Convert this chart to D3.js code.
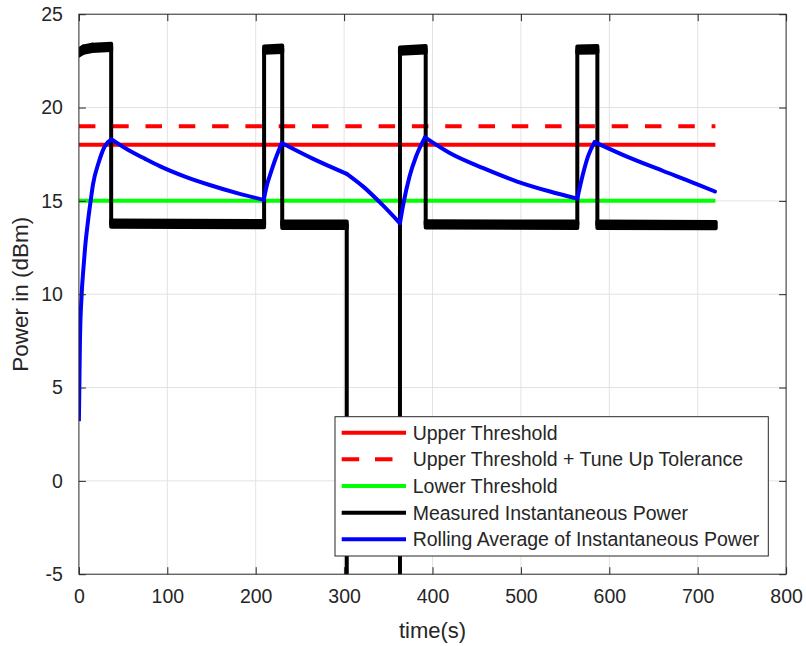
<!DOCTYPE html>
<html>
<head>
<meta charset="utf-8">
<script src="https://cdn.jsdelivr.net/npm/d3@7"></script>
<style>
  html, body { margin: 0; padding: 0; background: #fff; }
  svg { display: block; }
  text { font-family: "Liberation Sans", Arial, Helvetica, sans-serif; fill: #262626; }
</style>
</head>
<body>
<svg id="chart" width="806" height="646"></svg>
<script>
// ---------------- data ----------------
const xTicks = [0, 100, 200, 300, 400, 500, 600, 700, 800];
const yTicks = [-5, 0, 5, 10, 15, 20, 25];

const thresholdStart = 0;
const thresholdEnd = 720;
const upperThreshold = 18;
const upperTolThreshold = 19;
const lowerThreshold = 15;

// measured instantaneous power (step shape, dBm); -40 = signal off (below axis)
const measuredTime  = [0, 5, 15, 36.5, 36.5, 209.5, 209.5, 230, 230, 303, 303, 363.2, 363.2, 392.3, 392.3, 563.8, 563.8, 586.5, 586.5, 720.4];
const measuredPower = [22.95, 23.1, 23.2, 23.25, 13.78, 13.75, 23.1, 23.15, 13.72, 13.72, -40, -40, 23.05, 23.12, 13.74, 13.72, 23.1, 23.12, 13.72, 13.7];
// measured jitter half-width (dB) on the flat parts
const measuredJitter = 0.17;

// rolling average of instantaneous power (dBm)
const rollingTime  = [0, 0.5, 1.2, 3, 5, 7, 10, 13, 16, 22, 29, 37,
                      55, 75, 92, 120, 148, 180, 209,
                      213, 217, 222, 229.5,
                      265, 303,
                      322, 342, 363.2,
                      366.5, 374, 381.6, 391.5,
                      420, 457.5, 495, 533, 563.8,
                      570, 576, 583.5,
                      623.4, 661, 698.9, 719.6];
const rollingPower = [3.2, 5, 7.5, 9.9, 11.3, 12.5, 13.8, 14.9, 15.9, 17.0, 17.9, 18.3,
                      17.75, 17.25, 16.85, 16.3, 15.85, 15.4, 15.05,
                      15.9, 16.5, 17.2, 18.1,
                      17.25, 16.45,
                      15.75, 14.85, 13.8,
                      14.7, 16.3, 17.4, 18.4,
                      17.55, 16.75, 16.05, 15.5, 15.12,
                      16.4, 17.4, 18.15,
                      17.3, 16.6, 15.9, 15.5];
// times where the rolling average has a sharp corner
const rollingCorners = [0, 37, 209, 229.5, 303, 363.2, 391.5, 563.8, 583.5, 719.6];

const legendLabels = [
  "Upper Threshold",
  "Upper Threshold + Tune Up Tolerance",
  "Lower Threshold",
  "Measured Instantaneous Power",
  "Rolling Average of Instantaneous Power"
];
const legendColors = ["#ff0000", "#ff0000", "#00ff00", "#000000", "#0000ff"];
const legendDashed = [false, true, false, false, false];

// ---------------- layout ----------------
const svg = d3.select("#chart");
const L = 78.9, R = 786.1, T = 14.2, B = 574.2;
const x = d3.scaleLinear().domain([0, 800]).range([L, R]);
const y = d3.scaleLinear().domain([-5, 25]).range([B, T]);
const axisColor = "#262626";
const lw = 4;

// grid
const grid = svg.append("g");
grid.selectAll("line.gx").data(xTicks.slice(1, -1)).join("line")
  .attr("x1", d => x(d)).attr("x2", d => x(d)).attr("y1", T).attr("y2", B)
  .attr("stroke", "#e3e3e3").attr("stroke-width", 1);
grid.selectAll("line.gy").data(yTicks.slice(1, -1)).join("line")
  .attr("x1", L).attr("x2", R).attr("y1", d => y(d)).attr("y2", d => y(d))
  .attr("stroke", "#e3e3e3").attr("stroke-width", 1);

// clip
svg.append("clipPath").attr("id", "clip").append("rect")
  .attr("x", L).attr("y", T).attr("width", R - L).attr("height", B - T);
const plot = svg.append("g").attr("clip-path", "url(#clip)");

// thresholds
function hline(v, color, dashed) {
  const p = plot.append("line")
    .attr("x1", x(thresholdStart)).attr("x2", x(thresholdEnd))
    .attr("y1", y(v)).attr("y2", y(v))
    .attr("stroke", color).attr("stroke-width", lw);
  if (dashed) p.attr("stroke-dasharray", "16.5,16.8");
}
hline(upperThreshold, "#ff0000", false);
hline(upperTolThreshold, "#ff0000", true);
hline(lowerThreshold, "#00ff00", false);

// measured power
const measured = measuredTime.map((t, i) => ({ t, v: measuredPower[i] }));
for (let i = 0; i < measured.length - 1; i++) {
  const a = measured[i], b = measured[i + 1];
  if (a.t === b.t || a.v < -5) continue;
  plot.append("path").datum([a, b])
    .attr("d", d3.area().x(d => x(d.t)).y0(d => y(d.v - measuredJitter)).y1(d => y(d.v + measuredJitter)))
    .attr("fill", "#000").attr("stroke", "#000").attr("stroke-width", lw).attr("stroke-linejoin", "round");
}
plot.append("path").datum(measured)
  .attr("d", d3.line().x(d => x(d.t)).y(d => y(d.v)))
  .attr("fill", "none").attr("stroke", "#000").attr("stroke-width", lw)
  .attr("stroke-linejoin", "round");

// rolling average: smooth segments between sharp corners
const rolling = rollingTime.map((t, i) => ({ t, v: rollingPower[i] }));
const smoothLine = d3.line().x(d => x(d.t)).y(d => y(d.v)).curve(d3.curveMonotoneX);
for (let k = 0; k < rollingCorners.length - 1; k++) {
  const seg = rolling.filter(d => d.t >= rollingCorners[k] && d.t <= rollingCorners[k + 1]);
  plot.append("path").datum(seg)
    .attr("d", smoothLine)
    .attr("fill", "none").attr("stroke", "#0000ff").attr("stroke-width", lw)
    .attr("stroke-linejoin", "round").attr("stroke-linecap", k === 0 ? "butt" : "round");
}

// axes box
const axes = svg.append("g");
axes.append("rect").attr("x", L).attr("y", T).attr("width", R - L).attr("height", B - T)
  .attr("fill", "none").attr("stroke", axisColor).attr("stroke-width", 1);

const tickLen = 7;
const fmt = d => String(d);
const xAxisB = d3.axisBottom(x).tickValues(xTicks).tickSize(-tickLen).tickPadding(tickLen + 8).tickFormat(fmt);
const xAxisT = d3.axisTop(x).tickValues(xTicks).tickSize(-tickLen).tickFormat("");
const yAxisL = d3.axisLeft(y).tickValues(yTicks).tickSize(-tickLen).tickPadding(tickLen + 9).tickFormat(fmt);
const yAxisR = d3.axisRight(y).tickValues(yTicks).tickSize(-tickLen).tickFormat("");

function styleAxis(g) {
  g.select(".domain").remove();
  g.selectAll(".tick line").attr("stroke", axisColor);
  g.selectAll(".tick text").style("font-size", "19.5px").attr("fill", axisColor);
}
axes.append("g").attr("transform", `translate(0,${B})`).call(xAxisB).call(styleAxis);
axes.append("g").attr("transform", `translate(0,${T})`).call(xAxisT).call(styleAxis);
axes.append("g").attr("transform", `translate(${L},0)`).call(yAxisL).call(styleAxis);
axes.append("g").attr("transform", `translate(${R},0)`).call(yAxisR).call(styleAxis);

// axis labels
svg.append("text").attr("x", (L + R) / 2).attr("y", 638)
  .attr("text-anchor", "middle").style("font-size", "22px").text("time(s)");
svg.append("text").attr("transform", `translate(28,${(T + B) / 2}) rotate(-90)`)
  .attr("text-anchor", "middle").style("font-size", "22.5px").text("Power in (dBm)");

// legend
const lg = svg.append("g");
const lgX = 335, lgY = 416.7, lgW = 433.3, lgH = 139.3;
lg.append("rect").attr("x", lgX).attr("y", lgY).attr("width", lgW).attr("height", lgH)
  .attr("fill", "#fff").attr("stroke", axisColor).attr("stroke-width", 1);
const rowY = d3.scalePoint().domain(d3.range(legendLabels.length)).range([432.7, 539.3]);
legendLabels.forEach((lab, i) => {
  const cy = rowY(i);
  const ln = lg.append("line").attr("x1", 341.7).attr("x2", 406).attr("y1", cy).attr("y2", cy)
    .attr("stroke", legendColors[i]).attr("stroke-width", lw);
  if (legendDashed[i]) ln.attr("stroke-dasharray", "17.5,15.8");
  lg.append("text").attr("x", 412.7).attr("y", cy + 7)
    .style("font-size", "19.5px").text(lab);
});
</script>
</body>
</html>
